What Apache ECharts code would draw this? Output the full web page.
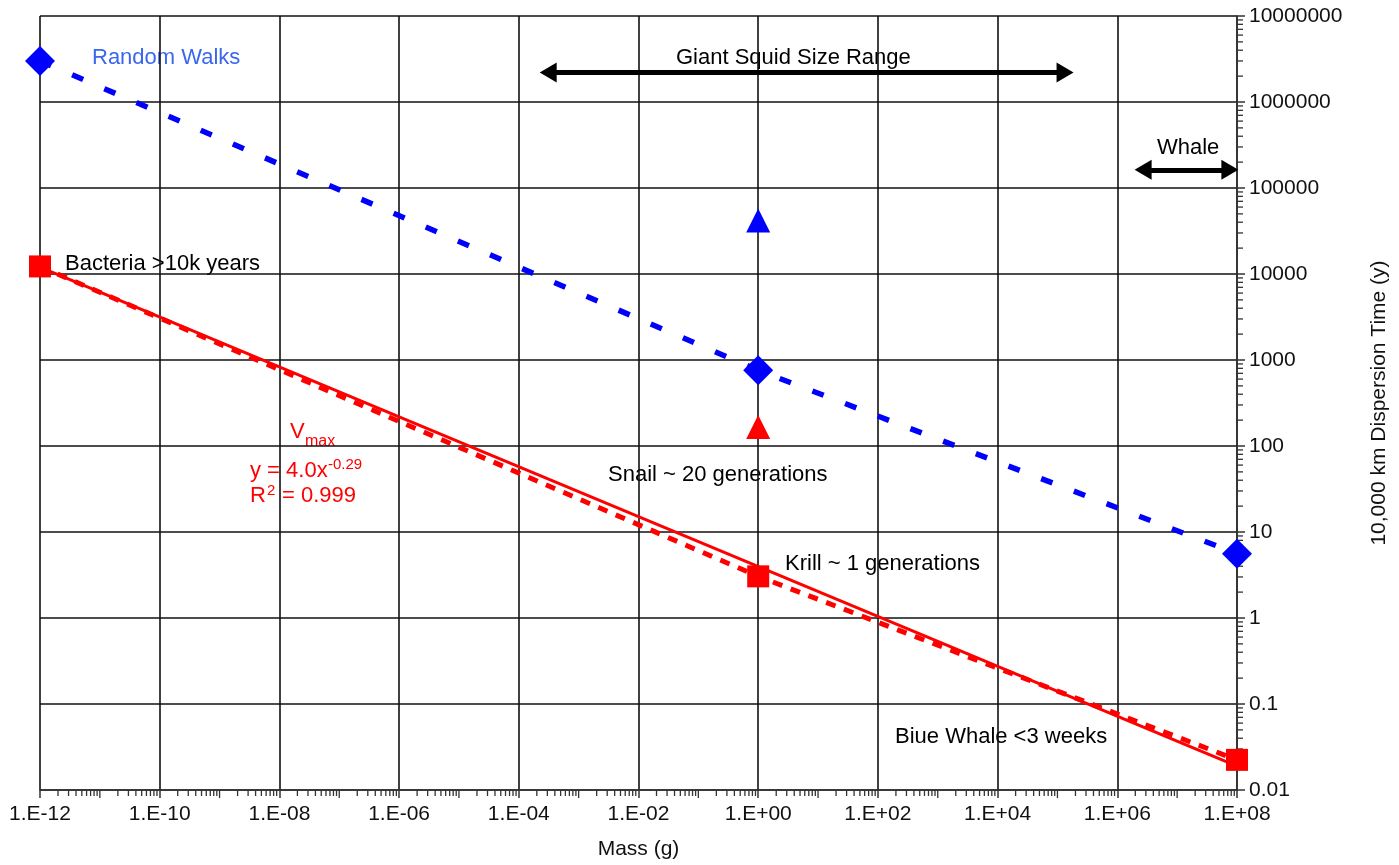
<!DOCTYPE html>
<html>
<head>
<meta charset="utf-8">
<script src="https://cdn.jsdelivr.net/npm/echarts@6/dist/echarts.min.js"></script>
<style>
  html, body { margin: 0; padding: 0; background: #fff; }
  #chart { width: 1399px; height: 865px; }
</style>
</head>
<body>
<div id="chart"></div>
<script>
// values
var massPoints = [1e-12, 1, 1e8];
var randomWalkTime = [3.0e6, 760, 5.6];
var vmaxTime = [12250, 3.05, 0.0224];
var fitMass = [1e-12, 1e8];
var fitTime = [12000, 0.019];
var triMass = 1;
var blueTriTime = 41900;
var redTriTime = 166;

// arrow annotations [from, to, level]
var squidArrow = [3.1e-4, 1.34e5, 2.2e6];
var whaleArrow = [2.7e6, 7.6e7, 1.63e5];

// axis range
var xMin = 1e-12, xMax = 1e8;
var yMin = 0.01, yMax = 1e7;
var minorSteps = [2, 3, 4, 5, 6, 7, 8, 9];

var FONT = '"Liberation Sans", Arial, sans-serif';

// log minor tick positions (2..9 in every decade)
function minorTicks(lo, hi) {
  var out = [];
  var e0 = Math.round(Math.log10(lo)), e1 = Math.round(Math.log10(hi));
  for (var e = e0; e < e1; e++) {
    minorSteps.forEach(function (m) { out.push([m * Math.pow(10, e), 1]); });
  }
  return out;
}
var xMinor = minorTicks(xMin, xMax);
// unlabelled decades on the mass axis get a longer tick
for (var e = -11; e < 8; e += 2) xMinor.push([Math.pow(10, e), 2]);
var yMinor = minorTicks(yMin, yMax);

function xLabel(v) {
  var e = Math.round(Math.log10(v));
  return '1.E' + (e < 0 ? '-' : '+') + String(Math.abs(e)).padStart(2, '0');
}
function yLabel(v) {
  var e = Math.round(Math.log10(v));
  if (e >= 0) return '1' + '0'.repeat(e);
  return '0.' + '0'.repeat(-e - 1) + '1';
}

function pairs(xs, ys) {
  return xs.map(function (x, i) { return [x, ys[i]]; });
}

var chart = echarts.init(document.getElementById('chart'));

var txt = function (x, y, s, color, size) {
  return {
    type: 'text', x: x, y: y + 2,
    style: { text: s, fill: color || '#000', font: (size || 22) + 'px ' + FONT,
      align: 'left', verticalAlign: 'middle' }
  };
};

var option = {
  animation: false,
  backgroundColor: '#fff',
  grid: { left: 40, right: 162, top: 16, bottom: 72, containLabel: false },
  xAxis: {
    type: 'log', logBase: 10, min: xMin, max: xMax,
    interval: 2,
    name: 'Mass (g)', nameLocation: 'middle', nameGap: 49,
    nameTextStyle: { fontFamily: FONT, fontSize: 21, color: '#111' },
    axisLine: { show: true, lineStyle: { color: '#333', width: 1.5 } },
    axisTick: { show: true, length: 8, lineStyle: { color: '#333', width: 1.5 } },
    axisLabel: { formatter: xLabel, fontFamily: FONT, fontSize: 21, color: '#111', margin: 14 },
    splitLine: { show: true, lineStyle: { color: '#111', width: 1.6 } }
  },
  yAxis: {
    type: 'log', logBase: 10, min: yMin, max: yMax,
    interval: 1, position: 'right',
    name: '10,000 km Dispersion Time (y)', nameLocation: 'middle', nameGap: 132, nameRotate: 90,
    nameTextStyle: { fontFamily: FONT, fontSize: 21, color: '#111' },
    axisLine: { show: true, lineStyle: { color: '#333', width: 1.5 } },
    axisTick: { show: true, length: 8, lineStyle: { color: '#333', width: 1.5 } },
    axisLabel: { formatter: yLabel, fontFamily: FONT, fontSize: 21, color: '#111', margin: 12 },
    splitLine: { show: true, lineStyle: { color: '#111', width: 1.6 } }
  },
  series: [
    {
      name: 'x minor ticks', type: 'custom', silent: true, clip: false, z: 1,
      data: xMinor,
      renderItem: function (params, api) {
        var p = api.coord([api.value(0), yMin]);
        var len = api.value(1) == 2 ? 8 : 6;
        return { type: 'line', shape: { x1: p[0], y1: p[1], x2: p[0], y2: p[1] + len },
          style: { stroke: '#333', lineWidth: 1.3 } };
      }
    },
    {
      name: 'y minor ticks', type: 'custom', silent: true, clip: false, z: 1,
      data: yMinor,
      renderItem: function (params, api) {
        var p = api.coord([xMax, api.value(0)]);
        return { type: 'line', shape: { x1: p[0], y1: p[1], x2: p[0] + 6, y2: p[1] },
          style: { stroke: '#333', lineWidth: 1.3 } };
      }
    },
    {
      name: 'Vmax fit', type: 'line', z: 2,
      data: pairs(fitMass, fitTime),
      showSymbol: false, symbol: 'none',
      lineStyle: { color: '#ff0000', width: 3 }
    },
    {
      name: 'Vmax', type: 'line', z: 3,
      data: pairs(massPoints, vmaxTime),
      symbol: 'rect', symbolSize: 22, showAllSymbol: true,
      itemStyle: { color: '#ff0000' },
      lineStyle: { color: '#ff0000', width: 5, type: [10, 9] }
    },
    {
      name: 'Random Walks', type: 'line', z: 3,
      data: pairs(massPoints, randomWalkTime),
      symbol: 'diamond', symbolSize: 30, showAllSymbol: true,
      itemStyle: { color: '#0000ff' },
      lineStyle: { color: '#0000ff', width: 5.5, type: [12, 23] }
    },
    {
      name: 'triangles', type: 'scatter', z: 4,
      symbol: 'triangle', symbolSize: [24, 24],
      data: [
        { value: [triMass, blueTriTime], itemStyle: { color: '#0000ff', opacity: 1 } },
        { value: [triMass, redTriTime], itemStyle: { color: '#ff0000', opacity: 1 } }
      ]
    },
    {
      name: 'arrows', type: 'line', data: [], z: 5,
      markLine: {
        silent: true, animation: false,
        symbol: ['triangle', 'triangle'], symbolSize: [20, 17],
        label: { show: false },
        lineStyle: { color: '#000', width: 5, type: 'solid' },
        data: [
          [{ coord: [squidArrow[0], squidArrow[2]] }, { coord: [squidArrow[1], squidArrow[2]] }],
          [{ coord: [whaleArrow[0], whaleArrow[2]] }, { coord: [whaleArrow[1], whaleArrow[2]] }]
        ]
      }
    }
  ],
  graphic: [
    txt(92, 56, 'Random Walks', '#3a66f0'),
    txt(65, 262, 'Bacteria >10k years'),
    txt(676, 56, 'Giant Squid Size Range'),
    txt(1157, 146, 'Whale'),
    txt(290, 430, 'V', '#ff0000'),
    txt(305, 440, 'max', '#ff0000', 16),
    txt(250, 469, 'y = 4.0x', '#ff0000'),
    txt(328, 463, '-0.29', '#ff0000', 15),
    txt(250, 494, 'R', '#ff0000'),
    txt(267, 489, '2', '#ff0000', 15),
    txt(282, 494, '= 0.999', '#ff0000'),
    txt(608, 473, 'Snail ~ 20 generations'),
    txt(785, 562, 'Krill ~ 1 generations'),
    txt(895, 735, 'Biue Whale <3 weeks')
  ]
};

chart.setOption(option);
</script>
</body>
</html>
